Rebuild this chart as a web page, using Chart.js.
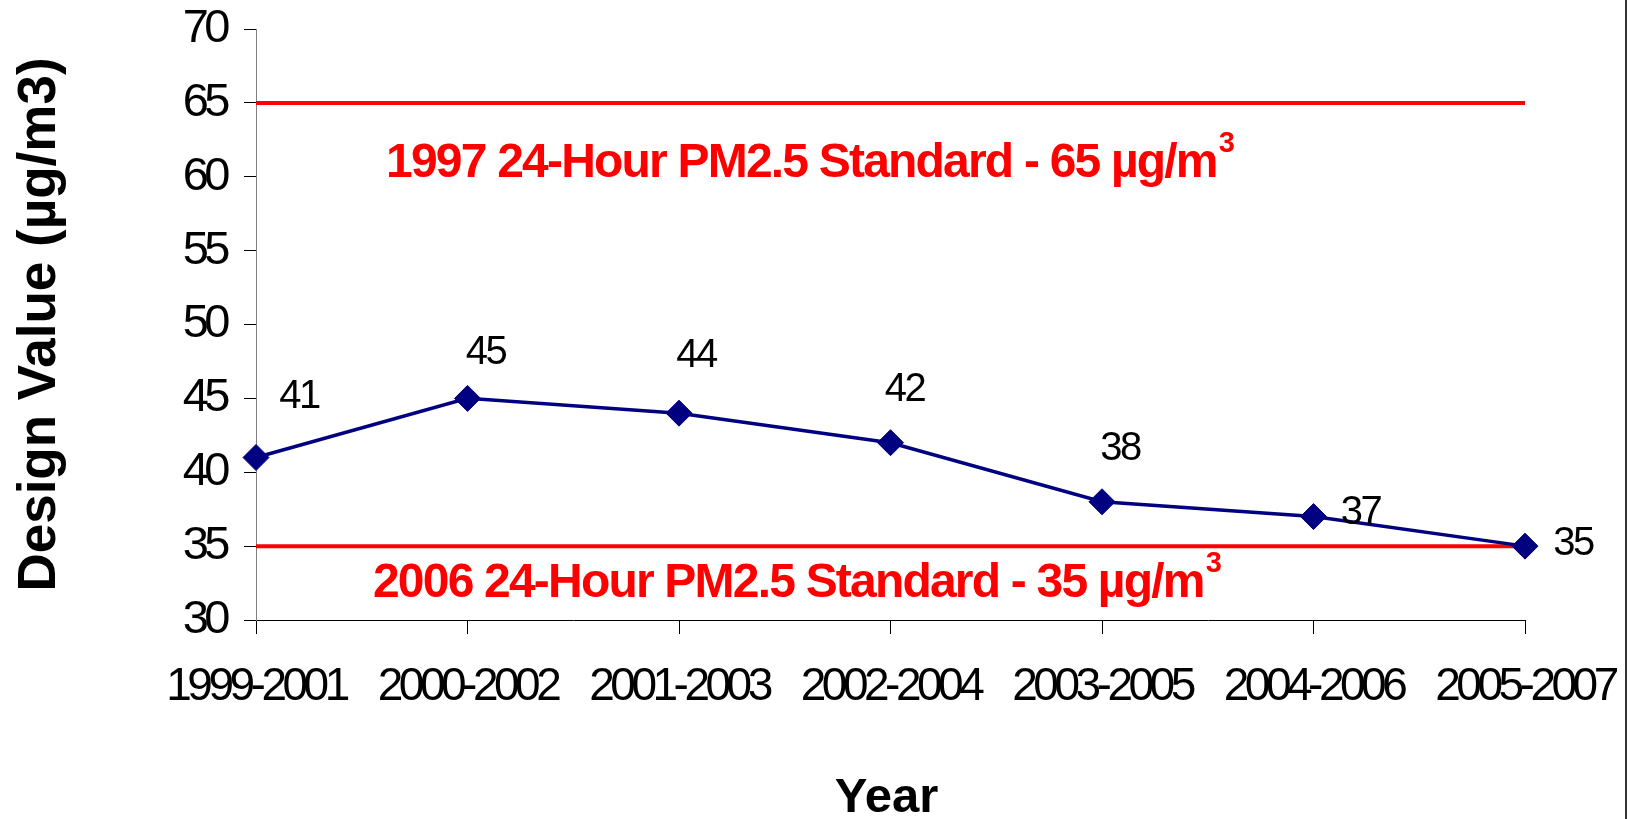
<!DOCTYPE html>
<html>
<head>
<meta charset="utf-8">
<script src="https://cdn.jsdelivr.net/npm/chart.js@4.4.1/dist/chart.umd.min.js"></script>
<style>
  html, body { margin: 0; padding: 0; background: #fff; }
  #wrap { width: 1631px; height: 819px; }
</style>
</head>
<body>
<div id="wrap"><canvas id="pm-chart" width="1631" height="819"></canvas></div>
<script>
const periods = ["1999-2001", "2000-2002", "2001-2003", "2002-2004", "2003-2005", "2004-2006", "2005-2007"];
const designValues = [41, 45, 44, 42, 38, 37, 35];
const standard1997 = [65, 65, 65, 65, 65, 65, 65];
const standard2006 = [35, 35, 35, 35, 35, 35, 35];
const yTicks = [30, 35, 40, 45, 50, 55, 60, 65, 70];

const FONT = "'Liberation Sans', Arial, sans-serif";
const NAVY = "#000080";
const RED = "#ff0000";

// where each value label sits relative to its point (px)
const labelOffsets = [[43, -61], [18, -45], [17, -57], [14, -53], [18, -53], [47, -4], [48, -2]];

// text boxes for the two standards: x in category index, y = baseline value
const standardNotes = [
  { text: "1997 24-Hour PM2.5 Standard - 65 \u00b5g/m", x: 0.615, y: 60 },
  { text: "2006 24-Hour PM2.5 Standard - 35 \u00b5g/m", x: 0.553, y: 31.57 },
];

const tightText = {
  id: "tightText",
  beforeLayout(chart) { chart.ctx.letterSpacing = "-4.5px"; },
  beforeDraw(chart) {
    const ctx = chart.ctx;
    ctx.save();
    ctx.fillStyle = "#fff";
    ctx.fillRect(0, 0, chart.width, chart.height);
    ctx.restore();
    ctx.letterSpacing = "-4.5px";
  },
  afterDraw(chart) {
    const ctx = chart.ctx;
    const xs = chart.scales.x, ys = chart.scales.y;
    const area = chart.chartArea;

    // value labels
    const meta = chart.getDatasetMeta(0);
    ctx.save();
    ctx.letterSpacing = "-2.5px";
    ctx.font = "40px " + FONT;
    ctx.fillStyle = "#000";
    ctx.textAlign = "center";
    ctx.textBaseline = "middle";
    meta.data.forEach((pt, i) => {
      const off = labelOffsets[i];
      ctx.fillText(String(designValues[i]), pt.x + off[0], pt.y + off[1]);
    });
    ctx.restore();

    // standards text
    ctx.save();
    ctx.fillStyle = RED;
    ctx.textAlign = "left";
    ctx.textBaseline = "alphabetic";
    standardNotes.forEach(n => {
      const x = xs.getPixelForValue(n.x);
      const y = ys.getPixelForValue(n.y);
      ctx.letterSpacing = "-1.8px";
      ctx.font = "bold 48px " + FONT;
      ctx.fillText(n.text, x, y);
      const w = ctx.measureText(n.text).width;
      ctx.letterSpacing = "0px";
      ctx.font = "bold 29px " + FONT;
      ctx.fillText("3", x + w + 2, y - 25);
    });
    ctx.restore();

    // axis titles
    ctx.save();
    ctx.letterSpacing = "0px";
    ctx.fillStyle = "#000";
    ctx.textAlign = "center";
    ctx.font = "bold 49px " + FONT;
    ctx.textBaseline = "alphabetic";
    ctx.fillText("Year", (area.left + area.right) / 2 - 4, 812);
    ctx.translate(40, (area.top + area.bottom) / 2);
    ctx.rotate(-Math.PI / 2);
    ctx.font = "bold 53px " + FONT;
    ctx.textBaseline = "middle";
    ctx.fillText("Design Value (\u00b5g/m3)", 0, 0);
    ctx.restore();

    // frame line on the right
    ctx.save();
    ctx.strokeStyle = "#333";
    ctx.lineWidth = 2;
    ctx.beginPath();
    ctx.moveTo(chart.width - 5, 0);
    ctx.lineTo(chart.width - 5, chart.height);
    ctx.stroke();
    ctx.restore();
  }
};

new Chart(document.getElementById("pm-chart"), {
  type: "line",
  plugins: [tightText],
  data: {
    labels: periods,
    datasets: [
      {
        data: designValues,
        borderColor: NAVY,
        backgroundColor: NAVY,
        borderWidth: 3.5,
        pointStyle: "rectRot",
        pointRadius: 13,
        pointBorderWidth: 1,
        tension: 0,
        order: 0,
      },
      {
        data: standard1997,
        borderColor: RED,
        borderWidth: 4,
        pointRadius: 0,
        order: 1,
      },
      {
        data: standard2006,
        borderColor: RED,
        borderWidth: 4,
        pointRadius: 0,
        order: 1,
      },
    ],
  },
  options: {
    responsive: false,
    animation: false,
    layout: { padding: { top: 29, right: 106, left: 0, bottom: 0 } },
    plugins: {
      legend: { display: false },
      tooltip: { enabled: false },
    },
    scales: {
      x: {
        offset: false,
        grid: { drawOnChartArea: false, tickLength: 14, color: "#000", lineWidth: 1 },
        border: { color: "#000", width: 1 },
        ticks: { font: { family: FONT, size: 46 }, color: "#000", padding: 26, maxRotation: 0, autoSkip: false },
        afterFit(s) {
          s.height = 199;
          s.paddingLeft = 0;
          s.paddingRight = 0;
        },
      },
      y: {
        min: 30,
        max: 70,
        afterBuildTicks(s) { s.ticks = yTicks.map(v => ({ value: v })); },
        grid: { drawOnChartArea: false, tickLength: 12, color: "#000", lineWidth: 1 },
        border: { color: "#808080", width: 1 },
        ticks: { font: { family: FONT, size: 47 }, color: "#000", padding: 18 },
        afterFit(s) {
          s.width = 256;
          s.paddingTop = 0;
          s.paddingBottom = 0;
        },
      },
    },
  },
});
</script>
</body>
</html>
